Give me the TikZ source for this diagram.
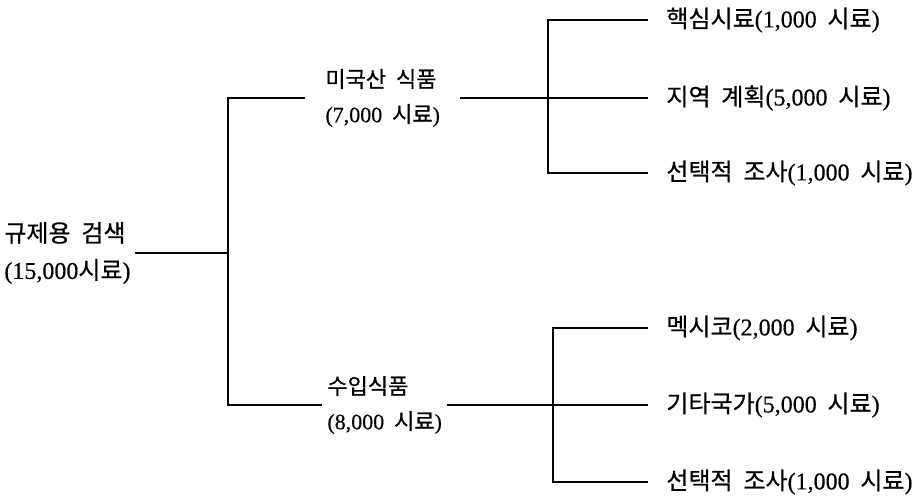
\documentclass[tikz,border=0pt]{standalone}
\usepackage{fontspec}
\setmainfont[FakeBold=0.4]{Liberation Serif}
\newfontfamily\kr[FakeBold=0.6]{Noto Sans CJK KR}
\newcommand\K[1]{{\kr #1}}
\newcommand\ws{\hspace{0.45em}}
\begin{document}
\begin{tikzpicture}[x=0.5pt,y=-0.5pt,
  lbl/.style={inner ysep=0pt,font=\fontsize{12pt}{18.5pt}\selectfont,align=left},
  mid/.style={lbl,font=\fontsize{11pt}{17.5pt}\selectfont},
  leaf/.style={lbl,anchor=west,inner xsep=9pt},
  conn/.style={line width=1.1pt,line join=miter}]
\useasboundingbox (0,0) rectangle (924,496);
% nodes
\node[lbl,anchor=west,inner xsep=2pt] (root) at (0,253) {\K{규제용\ws 검색}\\(15,000\K{시료})};
\node[mid,anchor=west,inner xsep=10pt] (us) at (305,98) {\K{미국산\ws 식품}\\(7,000\ws\K{시료})};
\node[mid,anchor=west,inner xsep=2.5pt] (imp) at (322,405) {\K{수입식품}\\(8,000\ws\K{시료})};
\node[leaf] (a1) at (648,20) {\K{핵심시료}(1,000\ws\K{시료})};
\node[leaf] (a2) at (648,98) {\K{지역\ws 계획}(5,000\ws\K{시료})};
\node[leaf] (a3) at (648,173) {\K{선택적\ws 조사}(1,000\ws\K{시료})};
\node[leaf] (b1) at (648,328) {\K{멕시코}(2,000\ws\K{시료})};
\node[leaf] (b2) at (648,405) {\K{기타국가}(5,000\ws\K{시료})};
\node[leaf] (b3) at (648,482) {\K{선택적\ws 조사}(1,000\ws\K{시료})};
% junctions
\coordinate (j0) at (228,253);
\coordinate (j0t) at (228,98);
\coordinate (j0b) at (228,405);
\coordinate (j1) at (548,98);
\coordinate (j1t) at (548,20);
\coordinate (j1b) at (548,173);
\coordinate (j2) at (553,405);
\coordinate (j2t) at (553,328);
\coordinate (j2b) at (553,482);
% connectors
\draw[conn] (root.east) -- (j0);
\draw[conn] (us.west) -- (j0t) -- (j0b) -- (imp.west);
\draw[conn] (us.east) -- (j1) -- (a2.west);
\draw[conn] (a1.west) -- (j1t) -- (j1b) -- (a3.west);
\draw[conn] (imp.east) -- (j2) -- (b2.west);
\draw[conn] (b1.west) -- (j2t) -- (j2b) -- (b3.west);
\end{tikzpicture}
\end{document}
